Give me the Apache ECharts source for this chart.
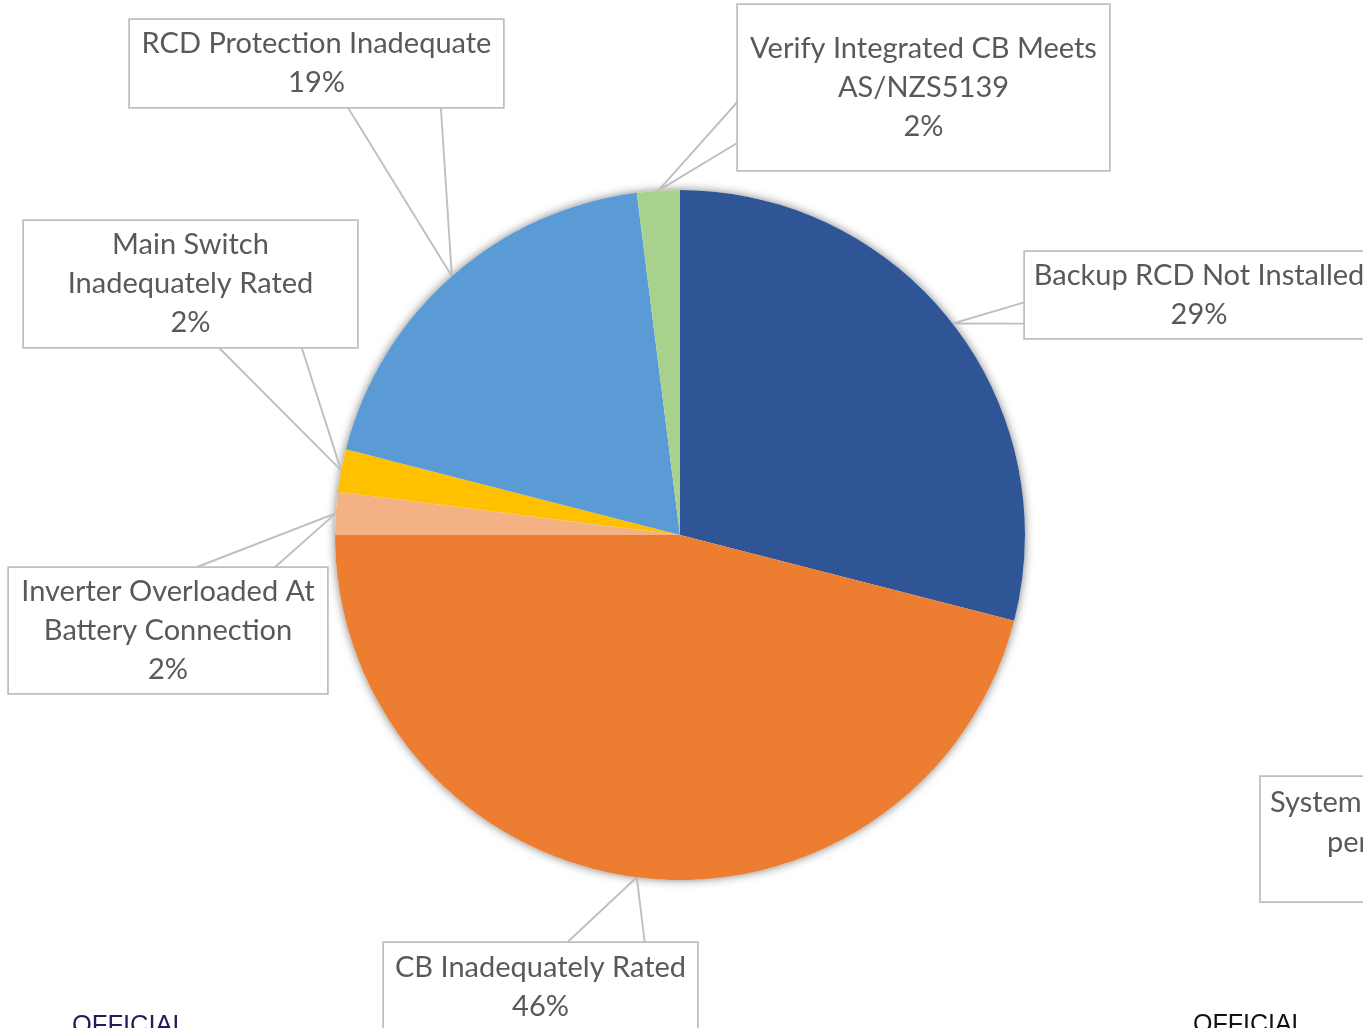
<!DOCTYPE html>
<html>
<head>
<meta charset="utf-8">
<script src="https://cdn.jsdelivr.net/npm/echarts@6/dist/echarts.min.js"></script>
<style>
  html, body { margin: 0; padding: 0; background: #ffffff; }
  #chart { width: 1363px; height: 1028px; }
</style>
</head>
<body>
<div id="chart"></div>
<script>
// Inspection findings, share of all defects (%)
const categories = [
  'Backup RCD Not Installed',
  'CB Inadequately Rated',
  'Inverter Overloaded At\nBattery Connection',
  'Main Switch\nInadequately Rated',
  'RCD Protection Inadequate',
  'Verify Integrated CB Meets\nAS/NZS5139'
];
const percentages = [29, 46, 2, 2, 19, 2];
const sliceColors = ['#2F5597', '#ED7D31', '#F4B183', '#FFC000', '#5B9BD5', '#A9D18E'];

// Callout boxes: centre, size and the side the pointer leaves from
const callouts = [
  { x: 1199,  y: 295,   w: 348, h: 86,  edge: 'left' },
  { x: 540.5, y: 987,   w: 313, h: 88,  edge: 'top' },
  { x: 168,   y: 630.5, w: 318, h: 125, edge: 'top' },
  { x: 190.5, y: 284,   w: 333, h: 126, edge: 'bottom' },
  { x: 316.5, y: 63.5,  w: 373, h: 87,  edge: 'bottom' },
  { x: 923.5, y: 87.5,  w: 371, h: 165, edge: 'left' }
];

const LABEL_FONT = 'Lato';
const LABEL_SIZE = 29;
const LINE_H = 39;
const TEXT_DROP = 2.5;
const GREY = '#BFBFBF';
const TEXT = '#595959';

const chart = echarts.init(document.getElementById('chart'), null, { renderer: 'canvas' });

const pieData = categories.map((name, i) => {
  const c = callouts[i];
  const lines = name.split('\n').length + 1;
  const padV = (c.h - lines * LINE_H) / 2;
  return {
    name: name,
    value: percentages[i],
    itemStyle: { color: sliceColors[i] },
    label: { width: c.w, padding: [padV + TEXT_DROP, 0, padV - TEXT_DROP, 0] }
  };
});

function sliceEdgePoint(seriesIndex, dataIndex) {
  const data = chart.getModel().getSeriesByIndex(seriesIndex).getData();
  const l = data.getItemLayout(dataIndex);
  const mid = (l.startAngle + l.endAngle) / 2;
  return [l.cx + l.r * Math.cos(mid), l.cy + l.r * Math.sin(mid)];
}

const option = {
  animation: false,
  backgroundColor: '#ffffff',
  series: [
    {
      // soft shadow under the pie
      type: 'pie',
      center: [680, 535],
      radius: 345,
      silent: true,
      z: 1,
      data: [{ value: 1 }],
      itemStyle: { color: '#ffffff', shadowBlur: 10, shadowColor: 'rgba(0,0,0,0.5)' },
      label: { show: false },
      labelLine: { show: false }
    },
    {
      type: 'pie',
      center: [680, 535],
      radius: 345,
      startAngle: 90,
      clockwise: true,
      z: 2,
      avoidLabelOverlap: false,
      data: pieData,
      itemStyle: { borderWidth: 0 },
      label: {
        show: true,
        position: 'outside',
        overflow: 'none',
        fontFamily: LABEL_FONT,
        fontSize: LABEL_SIZE,
        lineHeight: LINE_H,
        color: TEXT,
        align: 'center',
        backgroundColor: '#ffffff',
        borderColor: GREY,
        borderWidth: 1.75,
        formatter: p => p.name + '\n' + Math.round(p.percent) + '%'
      },
      labelLine: {
        show: true,
        length: 10,
        length2: 10,
        lineStyle: { color: GREY, width: 1.9 }
      },
      labelLayout: function (params) {
        const c = callouts[params.dataIndex];
        let tip;
        try {
          tip = sliceEdgePoint(params.seriesIndex, params.dataIndex);
        } catch (e) {
          tip = params.labelLinePoints[0];
        }
        const L = c.x - c.w / 2, T = c.y - c.h / 2;
        let a, b;
        if (c.edge === 'left') {
          a = [L, T + c.h * 7 / 12]; b = [L, T + c.h * 10 / 12];
        } else if (c.edge === 'top') {
          a = [L + c.w * 7 / 12, T]; b = [L + c.w * 10 / 12, T];
        } else {
          a = [L + c.w * 7 / 12, T + c.h]; b = [L + c.w * 10 / 12, T + c.h];
        }
        return {
          x: c.x, y: c.y,
          align: 'center', verticalAlign: 'middle',
          labelLinePoints: [a, tip, b]
        };
      }
    }
  ],
  graphic: [
    {
      type: 'rect', z: 10,
      shape: { x: 1260, y: 776, width: 360, height: 126 },
      style: { fill: '#ffffff', stroke: GREY, lineWidth: 1.75 }
    },
    {
      type: 'text', z: 11, x: 1270, y: 803,
      style: { text: 'System Not Installed As', font: LABEL_SIZE + 'px ' + LABEL_FONT, fill: TEXT, align: 'left', verticalAlign: 'middle' }
    },
    {
      type: 'text', z: 11, x: 1327, y: 843,
      style: { text: 'per Manufacturer', font: LABEL_SIZE + 'px ' + LABEL_FONT, fill: TEXT, align: 'left', verticalAlign: 'middle' }
    },
    {
      type: 'text', z: 11, x: 72, y: 1013,
      style: { text: 'OFFICIAL', font: '25.5px "Liberation Sans"', fill: '#1F1E5A', align: 'left', verticalAlign: 'top' }
    },
    {
      type: 'text', z: 11, x: 1193, y: 1013,
      style: { text: 'OFFICIAL', font: '25px "Liberation Sans"', fill: '#111111', align: 'left', verticalAlign: 'top' }
    }
  ]
};

chart.setOption(option);
</script>
</body>
</html>
